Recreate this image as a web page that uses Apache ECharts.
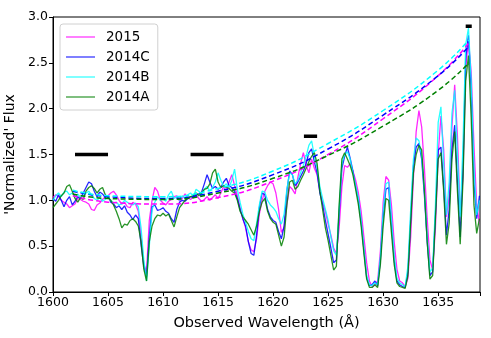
<!DOCTYPE html>
<html>
<head>
<meta charset="utf-8">
<script src="https://cdn.jsdelivr.net/npm/echarts@6/dist/echarts.min.js"></script>
<style>
  html, body { margin: 0; padding: 0; background: #fff; }
  #chart { width: 491px; height: 338px; }
</style>
</head>
<body>
<div id="chart"></div>
<script>
// wavelength grid, 0.25 A steps from 1600 to 1638.75
const wave = Array.from({ length: 156 }, (_, i) => 1600 + i * 0.25);

const flux2015 = [
  1.03, 1.06, 1.04, 1.00, 0.98, 0.96, 0.92, 0.94, 0.96, 1.02, 1.01, 0.99, 0.98, 0.96, 0.90, 0.89,
  0.95, 0.97, 1.01, 1.04, 1.05, 1.08, 1.10, 1.06, 1.00, 0.96, 0.98, 0.93, 0.92, 0.98, 0.96, 0.88,
  0.62, 0.30, 0.22, 0.78, 1.00, 1.14, 1.10, 1.00, 0.97, 0.95, 0.99, 1.01, 1.04, 1.05, 0.99, 1.02,
  1.07, 1.03, 1.01, 1.04, 1.06, 1.02, 0.99, 1.01, 1.04, 1.00, 1.03, 1.06, 1.02, 1.08, 1.15, 1.10,
  1.20, 1.28, 1.16, 1.05, 0.92, 0.80, 0.70, 0.55, 0.46, 0.44, 0.58, 0.85, 1.00, 1.10, 1.16, 1.20,
  1.18, 1.08, 0.90, 0.65, 0.70, 0.95, 1.15, 1.12, 1.07, 1.25, 1.40, 1.52, 1.38, 1.30, 1.45, 1.35,
  1.28, 1.10, 0.98, 0.88, 0.74, 0.62, 0.48, 0.42, 0.70, 1.15, 1.38, 1.36, 1.40, 1.32, 1.22, 1.08,
  0.88, 0.60, 0.32, 0.12, 0.06, 0.08, 0.12, 0.45, 0.98, 1.26, 1.22, 0.95, 0.55, 0.25, 0.12, 0.10,
  0.06, 0.15, 0.60, 1.25, 1.75, 1.98, 1.80, 1.35, 0.80, 0.35, 0.24, 0.70, 1.50, 1.92, 1.55, 0.82,
  1.05, 1.80, 2.26, 1.70, 0.85, 1.25, 2.45, 2.75, 2.40, 1.60, 0.95, 0.75
];
const flux2014C = [
  1.02, 0.99, 1.06, 1.00, 0.93, 1.00, 1.04, 0.95, 0.99, 1.04, 1.02, 1.08, 1.14, 1.20, 1.18, 1.10,
  1.04, 1.09, 1.07, 1.03, 1.05, 0.98, 0.96, 0.92, 0.94, 0.90, 0.94, 0.87, 0.84, 0.79, 0.84, 0.80,
  0.52, 0.28, 0.17, 0.60, 0.93, 0.95, 0.89, 0.90, 0.92, 0.88, 0.86, 0.80, 0.76, 0.90, 0.98, 1.00,
  0.99, 1.02, 1.04, 1.03, 1.06, 1.07, 1.09, 1.18, 1.28, 1.20, 1.13, 1.15, 1.12, 1.14, 1.20, 1.24,
  1.16, 1.14, 1.10, 1.02, 0.90, 0.80, 0.72, 0.55, 0.42, 0.40, 0.62, 0.92, 1.08, 1.06, 0.90, 0.82,
  0.78, 0.76, 0.66, 0.58, 0.72, 1.10, 1.32, 1.28, 1.16, 1.20, 1.26, 1.32, 1.40, 1.52, 1.56, 1.42,
  1.30, 1.08, 0.95, 0.78, 0.63, 0.48, 0.32, 0.35, 0.85, 1.35, 1.48, 1.58, 1.46, 1.32, 1.15, 1.00,
  0.76, 0.46, 0.16, 0.07, 0.08, 0.12, 0.07, 0.35, 0.82, 1.12, 1.14, 0.75, 0.35, 0.12, 0.08, 0.06,
  0.05, 0.22, 0.80, 1.38, 1.58, 1.62, 1.45, 1.05, 0.55, 0.18, 0.22, 0.85, 1.55, 1.58, 1.15, 0.62,
  0.90, 1.55, 1.82, 1.20, 0.60, 1.35, 2.55, 2.80, 2.20, 1.20, 0.80, 1.05
];
const flux2014B = [
  1.00, 1.05, 1.08, 1.04, 1.09, 1.10, 1.06, 1.08, 1.04, 1.07, 1.03, 1.05, 1.08, 1.10, 1.06, 1.02,
  1.00, 1.03, 0.99, 1.01, 1.04, 1.00, 0.97, 0.98, 0.95, 0.96, 1.00, 0.98, 0.96, 0.95, 0.97, 0.93,
  0.70, 0.35, 0.12, 0.50, 0.90, 0.98, 1.04, 1.00, 1.02, 0.99, 1.06, 1.10, 1.02, 1.04, 1.00, 1.05,
  1.02, 1.06, 1.08, 1.04, 1.12, 1.10, 1.06, 1.12, 1.15, 1.10, 1.14, 1.20, 1.30, 1.22, 1.15, 1.18,
  1.14, 1.22, 1.34, 1.12, 0.98, 0.85, 0.76, 0.66, 0.58, 0.56, 0.75, 0.95, 1.10, 1.09, 1.00, 0.95,
  0.92, 0.88, 0.80, 0.74, 0.85, 1.12, 1.30, 1.28, 1.18, 1.22, 1.30, 1.38, 1.48, 1.60, 1.65, 1.48,
  1.36, 1.15, 1.02, 0.90, 0.78, 0.60, 0.45, 0.40, 0.90, 1.40, 1.50, 1.53, 1.45, 1.30, 1.16, 1.02,
  0.78, 0.48, 0.18, 0.08, 0.07, 0.10, 0.08, 0.38, 0.88, 1.18, 1.20, 0.80, 0.40, 0.15, 0.10, 0.08,
  0.06, 0.28, 0.90, 1.45, 1.68, 1.65, 1.48, 1.10, 0.60, 0.22, 0.26, 0.95, 1.85, 2.02, 1.40, 0.84,
  1.20, 1.95, 2.20, 1.50, 0.82, 1.60, 2.70, 2.88, 2.30, 1.35, 0.84, 1.00
];
const flux2014A = [
  0.92, 0.96, 1.00, 1.05, 1.08, 1.15, 1.17, 1.10, 1.02, 0.98, 1.03, 1.01, 1.10, 1.14, 1.16, 1.13,
  1.08, 1.12, 1.14, 1.06, 1.03, 1.00, 0.95, 0.88, 0.80, 0.70, 0.74, 0.73, 0.78, 0.80, 0.77, 0.72,
  0.55, 0.25, 0.12, 0.55, 0.72, 0.80, 0.84, 0.83, 0.86, 0.83, 0.85, 0.78, 0.71, 0.82, 0.92, 0.96,
  1.00, 1.03, 1.04, 1.05, 1.08, 1.05, 1.08, 1.12, 1.13, 1.18, 1.30, 1.34, 1.20, 1.14, 1.16, 1.14,
  1.13, 1.10, 1.08, 1.00, 0.88, 0.82, 0.78, 0.74, 0.68, 0.62, 0.72, 0.88, 0.98, 1.02, 0.88, 0.80,
  0.76, 0.74, 0.62, 0.50, 0.60, 0.95, 1.20, 1.22, 1.12, 1.15, 1.22, 1.28, 1.35, 1.42, 1.48, 1.52,
  1.40, 1.10, 0.90, 0.70, 0.56, 0.40, 0.24, 0.28, 0.95, 1.45, 1.52, 1.45, 1.38, 1.28, 1.12, 0.95,
  0.72, 0.42, 0.14, 0.05, 0.05, 0.08, 0.05, 0.30, 0.72, 1.02, 1.00, 0.65, 0.30, 0.10, 0.06, 0.05,
  0.04, 0.18, 0.75, 1.30, 1.50, 1.60, 1.55, 1.10, 0.55, 0.14, 0.18, 0.80, 1.45, 1.52, 1.10, 0.52,
  0.75, 1.45, 1.75, 1.10, 0.52, 1.20, 2.30, 2.58, 1.90, 0.95, 0.64, 0.80
];

// continuum fits (dashed)
const fitWave = [1601.8, 1605, 1610, 1615, 1620, 1625, 1630, 1635, 1637.8];
const fit2015 = [1.05, 0.98, 0.96, 1.03, 1.21, 1.50, 1.89, 2.36, 2.72];
const fit2014C = [1.10, 1.04, 1.02, 1.10, 1.28, 1.56, 1.93, 2.36, 2.68];
const fit2014B = [1.11, 1.05, 1.04, 1.13, 1.32, 1.62, 1.98, 2.42, 2.75];
const fit2014A = [1.07, 1.02, 1.01, 1.08, 1.24, 1.49, 1.81, 2.20, 2.50];

// continuum windows (black bars)
const winStart = [1602, 1612.5, 1622.8, 1637.5];
const winEnd = [1605, 1615.5, 1624, 1638.05];
const winLevel = [1.5, 1.5, 1.7, 2.9];

const names = ['2015', '2014C', '2014B', '2014A'];
const colors = ['#ff00ff', '#0000ff', '#00ffff', '#008000'];
const spectra = [flux2015, flux2014C, flux2014B, flux2014A];
const fits = [fit2015, fit2014C, fit2014B, fit2014A];

const font = 'DejaVu Sans';
const chart = echarts.init(document.getElementById('chart'));

const series = [];
spectra.forEach((vals, k) => {
  series.push({
    name: names[k],
    type: 'line',
    symbol: 'none',
    data: wave.map((w, i) => [w, vals[i]]),
    lineStyle: { color: colors[k], width: 1.3, opacity: 0.85 },
    itemStyle: { color: colors[k], opacity: 0.5 },
    z: 2 + k
  });
});
fits.forEach((vals, k) => {
  series.push({
    type: 'line',
    symbol: 'none',
    smooth: true,
    data: fitWave.map((w, i) => [w, vals[i]]),
    lineStyle: { color: colors[k], width: 1.5, type: [5, 3] },
    z: 10
  });
});
winStart.forEach((s, k) => {
  series.push({
    type: 'line',
    symbol: 'none',
    data: [[s, winLevel[k]], [winEnd[k], winLevel[k]]],
    lineStyle: { color: '#000', width: 3.5, cap: 'butt' },
    z: 12
  });
});

const option = {
  animation: false,
  grid: {
    left: 53, right: 11, top: 17, bottom: 46,
    outerBoundsMode: 'none',
    show: true, borderColor: '#000', borderWidth: 1
  },
  legend: {
    data: names,
    orient: 'vertical',
    left: 60,
    top: 24,
    padding: [6, 8, 6, 6],
    icon: 'rect',
    itemWidth: 29,
    itemHeight: 2,
    itemGap: 6,
    borderColor: '#d0d0d0',
    borderWidth: 1,
    borderRadius: 3,
    backgroundColor: 'rgba(255,255,255,0.8)',
    textStyle: { fontFamily: font, fontSize: 13.5, color: '#000', padding: [0, 0, 0, 6] }
  },
  xAxis: {
    type: 'value',
    min: 1600,
    max: 1638.8,
    interval: 5,
    name: 'Observed Wavelength (Å)',
    nameLocation: 'middle',
    nameGap: 24,
    nameTextStyle: { fontFamily: font, fontSize: 14.5, color: '#000' },
    axisLine: { lineStyle: { color: '#000', width: 1 } },
    axisTick: { length: 4, lineStyle: { color: '#000' } },
    axisLabel: {
      fontFamily: font, fontSize: 12.5, color: '#000', margin: 4,
      formatter: v => (v % 5 === 0 ? String(v) : '')
    },
    splitLine: { show: false }
  },
  yAxis: {
    type: 'value',
    min: 0,
    max: 3,
    interval: 0.5,
    name: "'Normalized' Flux",
    nameLocation: 'middle',
    nameGap: 29,
    nameTextStyle: { fontFamily: font, fontSize: 14, color: '#000' },
    axisLine: { show: true, lineStyle: { color: '#000', width: 1 } },
    axisTick: { show: true, length: 4, lineStyle: { color: '#000' } },
    axisLabel: {
      fontFamily: font, fontSize: 12.5, color: '#000', margin: 5,
      formatter: v => v.toFixed(1)
    },
    splitLine: { show: false }
  },
  series: series
};
chart.setOption(option);
</script>
</body>
</html>
